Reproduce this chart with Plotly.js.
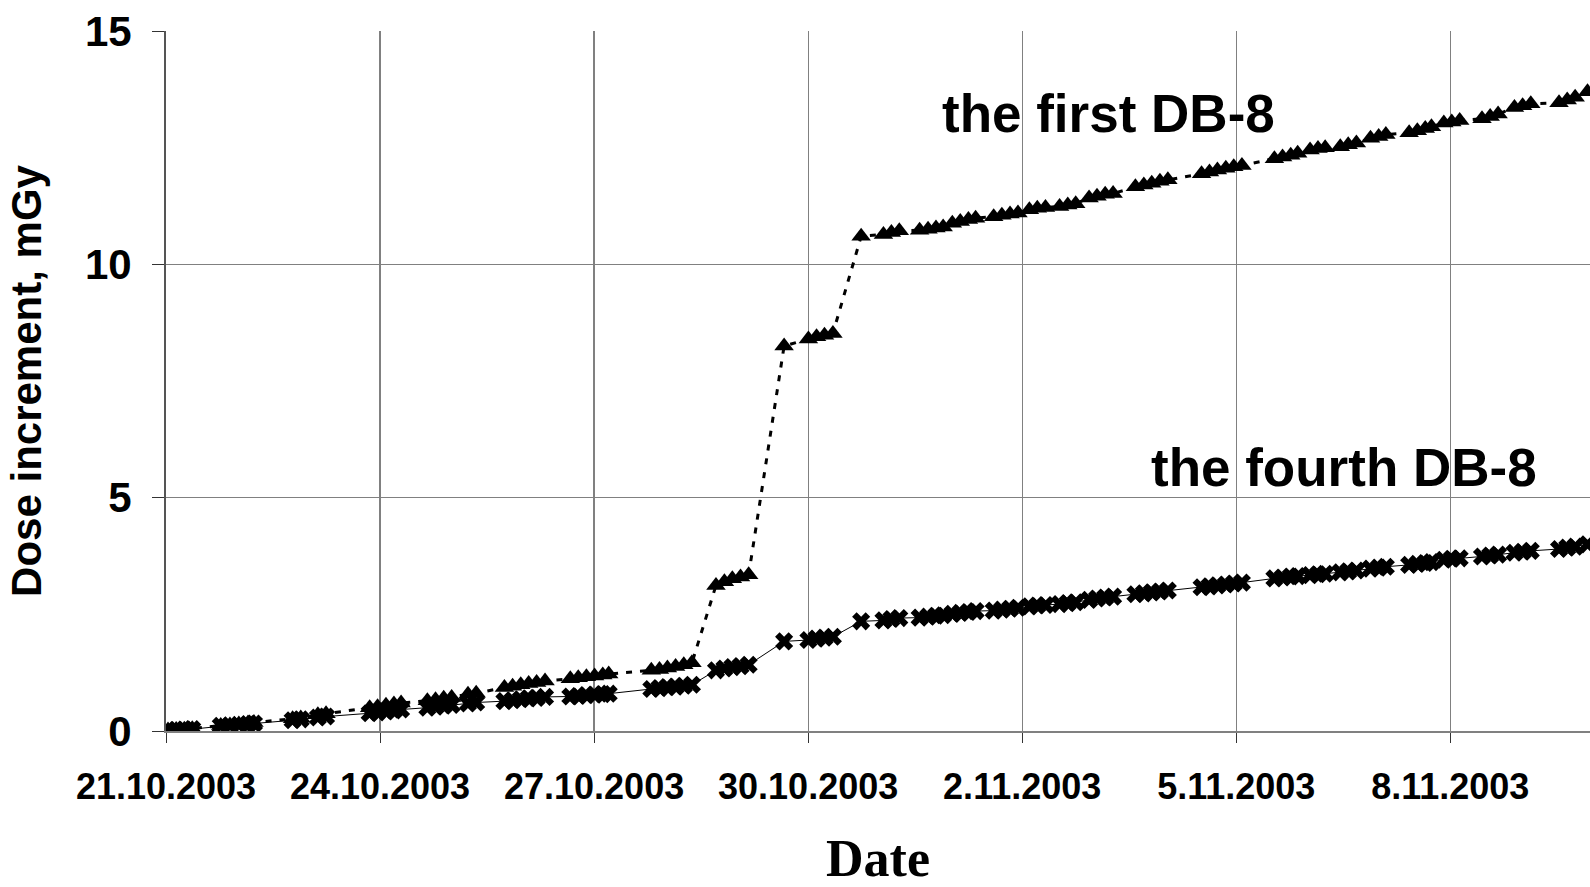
<!DOCTYPE html>
<html>
<head>
<meta charset="utf-8">
<script src="https://cdn.plot.ly/plotly-3.0.1.min.js"></script>
<style>
  html, body { margin: 0; padding: 0; background: #fff; overflow: hidden; }
  #chart { width: 100vw; height: 100vh; }
</style>
</head>
<body>
<div id="chart"></div>
<script>
// Instants de mesure (mêmes horodatages pour les deux détecteurs)
const dates = [
  '2003-10-21 00:40', '2003-10-21 03:25', '2003-10-21 06:10', '2003-10-21 08:50',
  '2003-10-21 18:25', '2003-10-21 21:30', '2003-10-22 00:30', '2003-10-22 03:35', '2003-10-22 05:35',
  '2003-10-22 18:35', '2003-10-22 21:20',
  '2003-10-23 03:05', '2003-10-23 05:50',
  '2003-10-23 20:30', '2003-10-23 23:10', '2003-10-24 02:00', '2003-10-24 04:40', '2003-10-24 07:05',
  '2003-10-24 15:55', '2003-10-24 18:40', '2003-10-24 21:25', '2003-10-25 00:05',
  '2003-10-25 05:35', '2003-10-25 08:20',
  '2003-10-25 17:50', '2003-10-25 20:35', '2003-10-25 23:20', '2003-10-26 02:00', '2003-10-26 04:40', '2003-10-26 07:30',
  '2003-10-26 16:00', '2003-10-26 18:40', '2003-10-26 21:25', '2003-10-27 00:10', '2003-10-27 02:55', '2003-10-27 04:55',
  '2003-10-27 19:15', '2003-10-27 22:00', '2003-10-28 00:40', '2003-10-28 03:25', '2003-10-28 06:10', '2003-10-28 08:55',
  '2003-10-28 17:00', '2003-10-28 19:50', '2003-10-28 22:30', '2003-10-29 01:15', '2003-10-29 04:00',
  '2003-10-29 15:55',
  '2003-10-30 00:05', '2003-10-30 02:50', '2003-10-30 05:30', '2003-10-30 08:20',
  '2003-10-30 17:50',
  '2003-10-31 01:20', '2003-10-31 04:00', '2003-10-31 06:40',
  '2003-10-31 13:30', '2003-10-31 16:20', '2003-10-31 19:00', '2003-10-31 21:25',
  '2003-11-01 00:30', '2003-11-01 03:10', '2003-11-01 05:55', '2003-11-01 08:20',
  '2003-11-01 14:25', '2003-11-01 17:10', '2003-11-01 19:55', '2003-11-01 22:35',
  '2003-11-02 02:25', '2003-11-02 05:05', '2003-11-02 07:50',
  '2003-11-02 12:35', '2003-11-02 15:20', '2003-11-02 18:00',
  '2003-11-02 22:30', '2003-11-03 01:10', '2003-11-03 03:55', '2003-11-03 06:35',
  '2003-11-03 14:05', '2003-11-03 16:55', '2003-11-03 19:35', '2003-11-03 22:20', '2003-11-04 01:00',
  '2003-11-04 12:20', '2003-11-04 15:00', '2003-11-04 17:40', '2003-11-04 20:30', '2003-11-04 23:10', '2003-11-05 01:55',
  '2003-11-05 12:50', '2003-11-05 15:35', '2003-11-05 18:20', '2003-11-05 20:40',
  '2003-11-06 00:50', '2003-11-06 03:30', '2003-11-06 05:55',
  '2003-11-06 11:00', '2003-11-06 13:40', '2003-11-06 16:25',
  '2003-11-06 21:10', '2003-11-06 23:55', '2003-11-07 02:20',
  '2003-11-07 10:10', '2003-11-07 12:55', '2003-11-07 15:35', '2003-11-07 17:40',
  '2003-11-07 21:50', '2003-11-08 00:30', '2003-11-08 03:10',
  '2003-11-08 10:40', '2003-11-08 13:25', '2003-11-08 16:05',
  '2003-11-08 21:35', '2003-11-09 00:20', '2003-11-09 03:05',
  '2003-11-09 12:35', '2003-11-09 15:20', '2003-11-09 18:00',
  '2003-11-09 22:10',
];

// Premier DB-8 (mGy)
const firstDB8 = [
  0.02, 0.03, 0.04, 0.05,
  0.12, 0.13, 0.15, 0.17, 0.18,
  0.26, 0.28,
  0.35, 0.37,
  0.50, 0.52, 0.55, 0.58, 0.60,
  0.65, 0.67, 0.70, 0.72,
  0.79, 0.81,
  0.93, 0.96, 0.99, 1.02, 1.04, 1.07,
  1.12, 1.14, 1.16, 1.18, 1.20, 1.22,
  1.30, 1.32, 1.35, 1.38, 1.42, 1.46,
  3.12, 3.20, 3.26, 3.30, 3.35,
  8.25,
  8.40, 8.45, 8.48, 8.52,
  10.60,
  10.64, 10.68, 10.72,
  10.73, 10.75, 10.78, 10.80,
  10.88, 10.92, 10.96, 10.99,
  11.02, 11.05, 11.08, 11.10,
  11.17, 11.20, 11.22,
  11.24, 11.27, 11.30,
  11.42, 11.46, 11.50, 11.52,
  11.66, 11.70, 11.74, 11.78, 11.81,
  11.94, 11.98, 12.02, 12.06, 12.09, 12.12,
  12.26, 12.30, 12.34, 12.38,
  12.45, 12.48, 12.50,
  12.52, 12.56, 12.60,
  12.70, 12.74, 12.78,
  12.82, 12.86, 12.91, 12.95,
  13.03, 13.05, 13.08,
  13.12, 13.17, 13.22,
  13.36, 13.40, 13.44,
  13.46, 13.52, 13.58,
  13.70,
];

// Quatrième DB-8 (mGy)
const fourthDB8 = [
  0.02, 0.02, 0.03, 0.04,
  0.11, 0.12, 0.13, 0.15, 0.16,
  0.23, 0.25,
  0.29, 0.31,
  0.38, 0.40, 0.42, 0.44, 0.46,
  0.50, 0.52, 0.54, 0.56,
  0.59, 0.61,
  0.64, 0.66, 0.68, 0.70, 0.71, 0.73,
  0.74, 0.75, 0.77, 0.78, 0.79, 0.80,
  0.90, 0.92, 0.94, 0.95, 0.97, 0.99,
  1.30, 1.34, 1.37, 1.39, 1.42,
  1.92,
  1.95, 1.98, 2.00, 2.02,
  2.35,
  2.37, 2.40, 2.42,
  2.43, 2.45, 2.47, 2.48,
  2.51, 2.53, 2.55, 2.57,
  2.58, 2.60, 2.62, 2.64,
  2.67, 2.69, 2.70,
  2.72, 2.74, 2.76,
  2.81, 2.84, 2.86, 2.88,
  2.93, 2.95, 2.97, 2.99, 3.01,
  3.08, 3.10, 3.12, 3.14, 3.16, 3.18,
  3.27, 3.29, 3.31, 3.32,
  3.34, 3.36, 3.37,
  3.40, 3.42, 3.44,
  3.48, 3.50, 3.52,
  3.56, 3.58, 3.60, 3.62,
  3.67, 3.69, 3.70,
  3.74, 3.76, 3.78,
  3.82, 3.84, 3.86,
  3.90, 3.93, 3.95,
  4.00,
];

const seriesLabels = ['the first DB-8', 'the fourth DB-8'];
const yTickVals = [0, 5, 10, 15];

const boldSans = { family: 'Liberation Sans, Arial, sans-serif', weight: 'bold', color: '#000' };

const traces = [
  {
    x: dates,
    y: fourthDB8,
    type: 'scatter',
    mode: 'lines+markers',
    name: seriesLabels[1],
    line: { color: '#000', width: 1 },
    marker: { symbol: 'x', size: 16, color: '#000' },
  },
  {
    x: dates,
    y: firstDB8,
    type: 'scatter',
    mode: 'lines+markers',
    name: seriesLabels[0],
    line: { color: '#000', width: 3, dash: '6px,8px' },
    marker: { symbol: 'triangle-up', size: 17, color: '#000' },
  },
];

const layout = {
  autosize: true,
  margin: { l: 166, r: 0, t: 31, b: 156 },
  paper_bgcolor: '#fff',
  plot_bgcolor: '#fff',
  showlegend: false,
  xaxis: {
    type: 'date',
    range: ['2003-10-21 00:00', '2003-11-09 23:00'],
    tick0: '2003-10-21',
    dtick: 3 * 86400000,
    tickformat: '%-d.%m.%Y',
    showgrid: true,
    gridcolor: '#808080',
    gridwidth: 1.2,
    showline: true,
    linecolor: '#808080',
    linewidth: 2,
    ticks: 'outside',
    ticklen: 10,
    tickcolor: '#333',
    ticklabelstandoff: 13,
    tickfont: Object.assign({ size: 36 }, boldSans),
    title: {
      text: 'Date',
      font: { family: 'Liberation Serif, Times New Roman, serif', weight: 'bold', size: 52, color: '#000' },
      standoff: 42,
    },
    zeroline: false,
  },
  yaxis: {
    range: [0, 15],
    tickvals: yTickVals,
    showgrid: true,
    gridcolor: '#808080',
    gridwidth: 1.2,
    showline: true,
    linecolor: '#555',
    linewidth: 2,
    ticks: 'outside',
    ticklen: 12,
    tickcolor: '#333',
    ticklabelstandoff: 12,
    tickfont: Object.assign({ size: 42 }, boldSans),
    title: {
      text: 'Dose increment, mGy',
      font: Object.assign({ size: 42 }, boldSans),
      standoff: 30,
    },
    zeroline: false,
  },
  annotations: [
    {
      text: seriesLabels[0],
      xref: 'paper', yref: 'paper',
      x: 0.662, y: 0.882,
      xanchor: 'center', yanchor: 'middle',
      showarrow: false,
      font: Object.assign({ size: 53 }, boldSans),
    },
    {
      text: seriesLabels[1],
      xref: 'paper', yref: 'paper',
      x: 0.827, y: 0.377,
      xanchor: 'center', yanchor: 'middle',
      showarrow: false,
      font: Object.assign({ size: 53 }, boldSans),
    },
  ],
};

Plotly.newPlot('chart', traces, layout, { displayModeBar: false, staticPlot: true, responsive: true });
</script>
</body>
</html>
